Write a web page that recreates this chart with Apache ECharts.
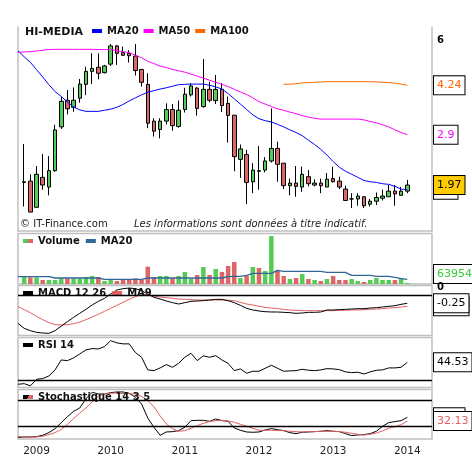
<!DOCTYPE html>
<html><head><meta charset="utf-8">
<script src="https://cdn.jsdelivr.net/npm/echarts@6/dist/echarts.min.js"></script>
<style>html,body{margin:0;padding:0;background:#fff}#c{width:472px;height:460px}</style>
</head><body><div id="c"></div>
<script>
// ---------- categories ----------
const padBefore = ['2008-10'];
const months = ['2008-11','2008-12',
 '2009-01','2009-02','2009-03','2009-04','2009-05','2009-06','2009-07','2009-08','2009-09','2009-10','2009-11','2009-12',
 '2010-01','2010-02','2010-03','2010-04','2010-05','2010-06','2010-07','2010-08','2010-09','2010-10','2010-11','2010-12',
 '2011-01','2011-02','2011-03','2011-04','2011-05','2011-06','2011-07','2011-08','2011-09','2011-10','2011-11','2011-12',
 '2012-01','2012-02','2012-03','2012-04','2012-05','2012-06','2012-07','2012-08','2012-09','2012-10','2012-11','2012-12',
 '2013-01','2013-02','2013-03','2013-04','2013-05','2013-06','2013-07','2013-08','2013-09','2013-10','2013-11','2013-12',
 '2014-01'];
const padAfter = ['2014-02','2014-03','2014-04','2014-05'];
const yearTicks = ['2009','2010','2011','2012','2013','2014'];

// ---------- price candles [open, close, low, high] ----------
const candles = [
 [2.01,2.02,1.67,2.70],[2.03,1.60,1.60,2.14],[1.66,2.14,1.66,2.28],[2.09,1.97,1.90,2.50],[1.94,2.20,1.82,2.46],
 [2.20,3.01,2.18,3.13],[3.08,3.75,3.03,3.88],[3.78,3.54,3.39,4.09],[3.58,3.78,3.46,4.17],[3.84,4.28,3.71,4.45],
 [4.27,4.72,3.93,4.89],[4.72,4.83,4.28,5.42],[4.87,4.65,4.44,5.42],[4.67,4.92,4.65,4.96],[4.99,5.74,4.92,5.82],
 [5.74,5.42,4.96,5.78],[5.45,5.34,5.31,5.71],[5.42,5.32,5.05,5.55],[5.31,4.75,4.57,5.82],[4.79,4.34,4.20,4.79],
 [4.27,3.17,3.05,4.65],[3.22,2.98,2.86,3.29],[3.02,3.22,2.82,3.29],[3.22,3.52,3.14,3.69],[3.52,3.11,2.99,3.67],
 [3.09,3.50,3.06,3.77],[3.52,3.96,3.44,4.16],[3.94,4.22,3.89,4.31],[4.15,3.55,3.36,4.18],[3.60,4.11,3.57,5.19],
 [4.11,3.78,3.72,4.36],[3.77,4.11,3.67,4.59],[4.11,3.63,3.45,4.31],[3.69,3.36,2.73,3.89],[3.37,2.45,2.19,3.37],
 [2.40,2.60,2.08,2.69],[2.49,2.01,1.70,2.58],[2.02,2.21,1.85,2.33],[2.20,2.19,1.90,2.66],[2.21,2.37,2.17,2.44],
 [2.37,2.61,2.34,3.55],[2.61,2.31,2.02,2.75],[2.33,1.96,1.91,2.33],[1.96,2.00,1.82,2.07],[2.00,1.95,1.80,2.28],
 [1.94,2.14,1.87,2.27],[2.10,1.99,1.95,2.21],[1.97,2.00,1.95,2.06],[2.00,1.96,1.85,2.07],[1.94,2.06,1.94,2.16],
 [2.07,2.02,2.01,2.27],[2.03,1.94,1.91,2.10],[1.91,1.75,1.75,1.96],[1.77,1.77,1.65,1.85],[1.77,1.81,1.68,1.85],
 [1.80,1.68,1.65,1.81],[1.70,1.74,1.67,1.77],[1.74,1.79,1.69,1.86],[1.78,1.81,1.75,1.90],[1.80,1.88,1.80,1.97],
 [1.88,1.84,1.68,1.97],[1.82,1.88,1.82,1.94],[1.88,1.97,1.85,2.05]
];
// moving averages (first value = left edge of the panel)
const ma20 = [5.53,5.28,5.06,4.78,4.52,4.26,4.04,3.89,3.73,3.59,3.51,3.47,3.47,3.47,3.50,3.53,3.58,3.66,3.76,3.85,3.94,
 4.02,4.07,4.12,4.16,4.21,4.26,4.27,4.28,4.28,4.28,4.24,4.19,4.12,3.98,3.82,3.67,3.52,3.38,3.28,3.23,
 3.20,3.14,3.08,3.01,2.95,2.88,2.78,2.69,2.59,2.48,2.36,2.26,2.19,2.14,2.09,2.04,2.02,2.01,1.99,1.98,1.95,1.91,1.9];
const ma50 = [5.46,5.48,5.49,5.52,5.55,5.58,5.59,5.59,5.59,5.59,5.59,5.59,5.59,5.58,5.58,5.58,5.53,5.49,5.45,5.34,5.24,
 5.10,5.01,4.91,4.86,4.79,4.74,4.69,4.62,4.55,4.48,4.41,4.34,4.27,4.20,4.11,4.03,3.95,3.85,3.74,3.67,3.60,
 3.54,3.50,3.45,3.41,3.36,3.32,3.29,3.27,3.27,3.27,3.27,3.27,3.27,3.27,3.25,3.21,3.18,3.13,3.08,3.01,2.95,2.9];
const ma100 = [null,null,null,null,null,null,null,null,null,null,null,null,null,null,null,null,null,null,null,null,null,
 null,null,null,null,null,null,null,null,null,null,null,null,null,null,null,null,null,null,null,null,null,null,
 4.27,4.28,4.29,4.32,4.33,4.34,4.35,4.36,4.36,4.36,4.36,4.36,4.36,4.36,4.36,4.35,4.34,4.33,4.31,4.28,4.24];

// ---------- volume (thousands) ----------
const volume = [504,420,420,252,252,252,357,357,357,357,441,504,441,189,252,189,252,252,357,273,
 1092,441,504,504,357,504,756,336,567,1071,567,945,756,1134,1386,378,504,1071,1008,819,
 3024,861,504,315,378,630,315,252,189,315,504,252,252,315,189,126,252,378,252,252,252,378,63.954];
const volMa20 = [462,462,462,462,462,462,378,378,378,378,378,378,378,378,294,294,294,294,294,294,294,
 378,378,378,378,378,378,378,378,378,378,378,378,378,462,483,483,546,672,672,672,672,861,
 798,798,798,798,798,798,798,735,735,735,735,546,546,546,546,483,483,483,420,336,294];

// ---------- MACD 12 26 / MA9 ----------
const macd = [-0.91,-1.073,-1.150,-1.206,-1.227,-1.238,-1.150,-0.997,-0.854,-0.712,-0.580,
 -0.448,-0.306,-0.185,-0.087,0.056,0.188,0.231,0.253,0.231,0.166,
 0.056,-0.054,-0.109,-0.174,-0.229,-0.273,-0.229,-0.185,-0.174,-0.163,
 -0.141,-0.120,-0.120,-0.163,-0.229,-0.317,-0.416,-0.470,-0.503,-0.525,
 -0.536,-0.536,-0.547,-0.558,-0.580,-0.569,-0.547,-0.547,-0.536,-0.470,
 -0.470,-0.459,-0.448,-0.437,-0.427,-0.427,-0.405,-0.394,-0.372,-0.350,
 -0.328,-0.284,-0.25];
const macdSignal = [-0.36,-0.459,-0.558,-0.679,-0.788,-0.887,-0.953,-0.964,-0.953,-0.920,-0.866,
 -0.788,-0.701,-0.613,-0.514,-0.416,-0.317,-0.218,-0.120,-0.032,0.045,
 0.034,-0.010,-0.043,-0.065,-0.087,-0.109,-0.120,-0.130,-0.141,-0.141,
 -0.141,-0.141,-0.141,-0.152,-0.163,-0.218,-0.273,-0.306,-0.350,-0.383,
 -0.405,-0.427,-0.448,-0.470,-0.481,-0.492,-0.492,-0.492,-0.492,-0.492,
 -0.492,-0.481,-0.481,-0.470,-0.470,-0.459,-0.448,-0.437,-0.427,-0.405,
 -0.394,-0.372,-0.35];

// ---------- RSI 14 ----------
const rsi = [26.8,27.3,25.5,30.8,31.4,33.5,38.4,46.4,45.9,48.1,51.3,
 54.5,55.6,55.3,57.2,62.0,60.2,59.4,59.4,52.4,48.6,
 38.4,37.8,40.0,42.7,40.5,43.7,48.6,51.8,45.9,49.7,
 48.6,49.9,46.4,43.7,37.8,39.2,35.7,37.3,37.3,39.7,
 42.1,39.7,37.3,37.6,37.8,38.9,38.1,37.8,38.4,39.4,
 39.2,38.6,36.8,36.2,36.5,35.1,36.8,38.1,38.4,40.0,
 40.0,40.5,44.53];

// ---------- Stochastique 14 3 5 ----------
const stochK = [-5.4,-4.6,-4.6,-3.8,-0.8,5.4,14.6,28.5,42.3,54.6,62.3,
 83.8,98.5,94.6,94.6,97.7,99.2,99.2,96.2,86.9,71.5,
 39.2,17.7,-0.8,6.9,7.7,10.0,17.7,33.1,33.8,33.8,
 31.5,36.9,33.1,31.5,16.2,10.8,6.9,6.2,6.9,11.5,
 14.6,12.3,10.0,5.4,3.1,6.2,6.9,7.7,8.5,10.0,
 8.5,7.7,3.1,-1.5,0.0,0.8,3.1,8.5,20.0,28.5,
 30.8,33.1,40.8];
const stochD = [-3.1,-4.6,-5.4,-4.6,-3.1,0.8,5.4,13.1,24.6,37.7,50.8,
 62.3,76.2,89.2,94.6,96.2,96.9,95.4,95.4,94.6,89.2,
 79.2,65.4,43.8,25.4,14.6,8.5,10.0,15.4,21.5,26.9,
 30.8,33.1,33.8,32.3,29.2,24.6,20.0,15.4,10.8,10.8,
 10.8,10.0,10.0,8.5,7.7,6.9,7.7,7.7,8.5,8.5,
 8.5,7.7,6.2,3.8,1.5,0.0,1.5,4.6,9.2,15.4,
 19.2,23.8,32.13];

// ---------- build ----------
const GREEN = '#55cc55', RED = '#dd6666', BORDER = '#c0c0c0';
const FONT = 'DejaVu Sans';
const cats = padBefore.concat(months, padAfter);
const last = a => a[a.length - 1];
const candleData = [['-','-','-','-']].concat(candles.map(c => c.slice()));
const volData = ['-'].concat(volume.map((v, i) => ({
  value: v, itemStyle: { color: candles[i][1] >= candles[i][0] ? GREEN : RED }
})));
const HIDDEN_LINE = { color: 'rgba(0,0,0,0)', width: 1, opacity: 1 };

function box(val, text, color, bg, extra) {
  return {
    yAxis: val,
    lineStyle: HIDDEN_LINE,
    label: Object.assign({
      show: true, position: 'end', distance: 2, formatter: text, color: color, opacity: 1,
      backgroundColor: bg, borderColor: '#000', borderWidth: 1, padding: [3, 3, 3, 3],
      fontSize: 11, lineHeight: 12, fontFamily: FONT
    }, extra || {})
  };
}
function hline(val, labelText, offset) {
  return {
    yAxis: val,
    lineStyle: { color: '#000', width: 1.3, type: 'solid', opacity: 1 },
    label: labelText ? { show: true, position: 'end', distance: 5, formatter: labelText, color: '#000',
      fontSize: 10, fontWeight: 'bold', fontFamily: FONT, offset: offset || [0, 0] } : { show: false }
  };
}
function ml(z, data) { return { silent: true, symbol: 'none', z: z, animation: false, data: data }; }

const volGrad = new echarts.graphic.LinearGradient(0, 0, 1, 1, [
  { offset: 0, color: GREEN }, { offset: 0.5, color: GREEN }, { offset: 0.5, color: RED }, { offset: 1, color: RED }]);
const stochGrad = new echarts.graphic.LinearGradient(0, 0, 1, 1, [
  { offset: 0, color: '#000' }, { offset: 0.5, color: '#000' }, { offset: 0.5, color: RED }, { offset: 1, color: RED }]);

const G = { left: 18, right: 40 };
const grids = [
  Object.assign({ top: 27, height: 204 }, G),
  Object.assign({ top: 233.5, height: 50.5, show: true, borderColor: BORDER, borderWidth: 1.5 }, G),
  Object.assign({ top: 285.5, height: 50, show: true, borderColor: BORDER, borderWidth: 1.5 }, G),
  Object.assign({ top: 337.5, height: 50, show: true, borderColor: BORDER, borderWidth: 1.5 }, G),
  Object.assign({ top: 389.5, height: 49.5, show: true, borderColor: BORDER, borderWidth: 1.5 }, G)
];
function xAx(i) {
  const ax = { type: 'category', gridIndex: i, data: cats, boundaryGap: false,
    axisLine: { show: false }, axisTick: { show: false }, axisLabel: { show: false }, splitLine: { show: false } };
  if (i === 0) ax.axisLine = { show: true, onZero: false, lineStyle: { color: BORDER, width: 1.5 } };
  if (i === 4) ax.axisLabel = { show: true, margin: 7, color: '#222', fontSize: 10.5, fontFamily: FONT,
    interval: (idx, v) => v.slice(5) === '01' && yearTicks.indexOf(v.slice(0, 4)) >= 0,
    formatter: v => v.slice(0, 4) };
  return ax;
}
function yAx(i, min, max, extra) {
  return Object.assign({ type: 'value', gridIndex: i, min: min, max: max, axisLine: { show: false },
    axisTick: { show: false }, axisLabel: { show: false }, splitLine: { show: false } }, extra || {});
}
const lineBase = { type: 'line', symbol: 'none', showSymbol: false, smooth: false, animation: false };
function ln(name, data, color, xi, extra) {
  return Object.assign({}, lineBase, { name: name, data: data, xAxisIndex: xi, yAxisIndex: xi === 0 ? 0 : xi + 1,
    lineStyle: { color: color, width: 1 }, itemStyle: { color: color } }, extra || {});
}

const legText = { fontSize: 10, fontWeight: 'bold', color: '#111', fontFamily: FONT };
const legBase = { padding: 0, itemWidth: 10, itemHeight: 4, icon: 'rect', selectedMode: false, textStyle: legText };

const option = {
  animation: false,
  textStyle: { fontFamily: FONT },
  grid: grids,
  xAxis: [0, 1, 2, 3, 4].map(xAx),
  yAxis: [
    yAx(0, 1.3837, 6.637, { type: 'log', logBase: 6, position: 'right',
      axisLine: { show: true, onZero: false, lineStyle: { color: BORDER, width: 1.5 } } }),
    yAx(0, 0, 1, { position: 'left', axisLine: { show: true, onZero: false, lineStyle: { color: BORDER, width: 1.5 } } }),
    yAx(1, 0, 3180),
    yAx(2, -1.309, 0.3355),
    yAx(3, 24.19, 64.54),
    yAx(4, -9.31, 104.92)
  ],
  legend: [
    Object.assign({ left: 92, top: 26, itemGap: 5, data: ['MA20', 'MA50', 'MA100'] }, legBase),
    Object.assign({ left: 23, top: 236, itemGap: 6, data: [{ name: 'Volume', itemStyle: { color: volGrad } }, 'MA20 '] }, legBase),
    Object.assign({ left: 23, top: 288, itemGap: 6, data: ['MACD 12 26', 'MA9'] }, legBase),
    Object.assign({ left: 23, top: 340, data: ['RSI 14'] }, legBase),
    Object.assign({ left: 23, top: 392, data: [{ name: 'Stochastique 14 3 5', itemStyle: { color: stochGrad } }] }, legBase)
  ],
  graphic: [
    { type: 'text', x: 25, y: 32, style: { text: 'HI-MEDIA', font: 'bold 11px "DejaVu Sans"', fill: '#111', verticalAlign: 'middle' } },
    { type: 'text', x: 20, y: 224.5, style: { text: '© IT-Finance.com', font: '10px "DejaVu Sans"', fill: '#222', verticalAlign: 'middle' } },
    { type: 'text', x: 134, y: 224.5, style: { text: 'Les informations sont données à titre indicatif.', font: 'italic 10px "DejaVu Sans"', fill: '#222', verticalAlign: 'middle' } }
  ],
  series: [
    ln('MA20', ma20, '#0000ff', 0, { markLine: ml(5, [box(last(ma20), String(last(ma20)), '#0000ff', '#fff')]) }),
    ln('MA50', ma50, '#ff00ff', 0, { markLine: ml(5, [box(last(ma50), String(last(ma50)), '#ff00ff', '#fff')]) }),
    ln('MA100', ma100, '#ff6600', 0, { markLine: ml(5, [box(last(ma100), String(last(ma100)), '#ff6600', '#fff')]) }),
    { type: 'candlestick', name: 'HI-MEDIA', xAxisIndex: 0, yAxisIndex: 0, data: candleData, barWidth: 4,
      itemStyle: { color: GREEN, color0: RED, borderColor: '#000', borderColor0: '#000', borderColorDoji: '#000', borderWidth: 1 },
      markLine: ml(6, [
        { yAxis: 6, lineStyle: HIDDEN_LINE, label: { show: true, position: 'end', distance: 5, formatter: '6',
          color: '#000', fontSize: 10, fontWeight: 'bold', fontFamily: FONT } },
        box(last(candles)[1], String(last(candles)[1]), '#000', '#ffcc00')
      ]) },
    { type: 'bar', name: 'Volume', xAxisIndex: 1, yAxisIndex: 2, data: volData, barWidth: 4.5,
      itemStyle: { color: GREEN },
      markLine: ml(6, [box(last(volume), String(Math.round(last(volume) * 1000)), '#33cc33', '#fff', { offset: [0, -9] })]) },
    ln('MA20 ', volMa20, '#336699', 1, { lineStyle: { color: '#336699', width: 1.3 } }),
    ln('MA9', macdSignal, '#e06060', 2, { markLine: ml(5, [box(last(macdSignal), String(last(macdSignal)), '#e06060', '#fff')]) }),
    ln('MACD 12 26', macd, '#000', 2, { markLine: ml(6, [hline(0, '0', [0, -8]), box(last(macd), String(last(macd)), '#000', '#fff')]) }),
    ln('RSI 14', rsi, '#000', 3, { markLine: ml(6, [hline(30), box(last(rsi), String(last(rsi)), '#000', '#fff')]) }),
    ln('Stochastique 14 3 5', stochK, '#000', 4, { markLine: ml(5, [hline(80), hline(20), box(last(stochK), String(last(stochK)), '#000', '#fff')]) }),
    ln('Stoch %D', stochD, '#e06060', 4, { markLine: ml(6, [box(last(stochD), String(last(stochD)), '#e06060', '#fff')]) })
  ]
};
const chart = echarts.init(document.getElementById('c'));
chart.setOption(option);
</script></body></html>
